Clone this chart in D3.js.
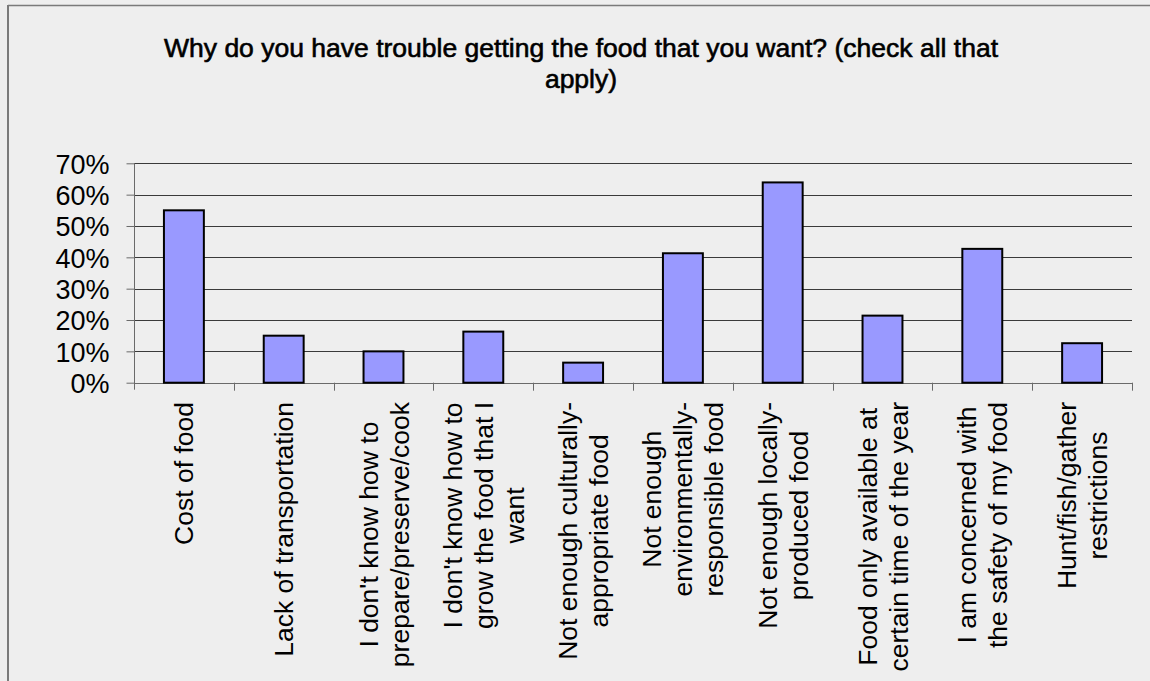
<!DOCTYPE html>
<html>
<head>
<meta charset="utf-8">
<script src="https://cdn.jsdelivr.net/npm/d3@7"></script>
<style>
  html, body { margin: 0; padding: 0; background: #eeeeee; }
  svg { display: block; }
</style>
</head>
<body>
<svg id="chart" width="1150" height="681"></svg>
<script>
// Survey responses: reasons people have trouble getting the food they want
const categories = [
  ["Cost of food"],
  ["Lack of transportation"],
  ["I don't know how to", "prepare/preserve/cook"],
  ["I don't know how to", "grow the food that I", "want"],
  ["Not enough culturally-", "appropriate food"],
  ["Not enough", "environmentally-", "responsible food"],
  ["Not enough locally-", "produced food"],
  ["Food only available at", "certain time of the year"],
  ["I am concerned with", "the safety of my food"],
  ["Hunt/fish/gather", "restrictions"]
];
const shares = [0.55, 0.15, 0.10, 0.163, 0.064, 0.413, 0.639, 0.214, 0.427, 0.126];
const yTicks = [0, 0.1, 0.2, 0.3, 0.4, 0.5, 0.6, 0.7];
const titleLines = [
  "Why do you have trouble getting the food that you want? (check all that",
  "apply)"
];

const svg = d3.select("#chart");
const W = 1150, H = 681;
const plot = { left: 134, right: 1132, top: 163.3, bottom: 382.7 };

// chart area background and frame
svg.append("rect").attr("width", W).attr("height", H).attr("fill", "#eeeeee");
svg.append("line").attr("x1", 8).attr("x2", W).attr("y1", 5.5).attr("y2", 5.5)
  .attr("stroke", "#7a7a7a").attr("stroke-width", 1.5);
svg.append("line").attr("x1", 8).attr("x2", 8).attr("y1", 5).attr("y2", H)
  .attr("stroke", "#7a7a7a").attr("stroke-width", 2);

// title: slightly condensed, medium weight; first line fitted to its width
const title = svg.append("text")
  .attr("font-family", "'Liberation Sans', Arial, sans-serif")
  .attr("font-size", 26)
  .attr("fill", "#000")
  .attr("stroke", "#000")
  .attr("stroke-width", 0.6)
  .attr("text-anchor", "middle");
const titleSpans = titleLines.map((t, i) =>
  title.append("tspan").attr("x", 581).attr("y", 57 + i * 31).text(t));
const firstLen = titleSpans[0].node().getComputedTextLength();
const squeeze = 834 / firstLen;
titleSpans.forEach(s => {
  const len = s.node().getComputedTextLength();
  s.attr("textLength", len * squeeze).attr("lengthAdjust", "spacingAndGlyphs");
});

const keys = categories.map((c, i) => i);
const x = d3.scaleBand().domain(keys).range([plot.left, plot.right])
  .paddingInner(0.6).paddingOuter(0.3);
const xSlots = d3.scaleBand().domain(keys).range([plot.left, plot.right]).padding(0);
const y = d3.scaleLinear().domain([0, 0.7]).range([plot.bottom, plot.top]);

// horizontal gridlines
svg.append("g").selectAll("line").data(yTicks.slice(1)).join("line")
  .attr("x1", plot.left).attr("x2", plot.right)
  .attr("y1", d => Math.round(y(d)) + 0.5).attr("y2", d => Math.round(y(d)) + 0.5)
  .attr("stroke", "#3a3a3a").attr("stroke-width", 1);

// y axis
const yAxis = d3.axisLeft(y).tickValues(yTicks).tickFormat(d3.format(".0%"))
  .tickSize(8).tickPadding(17);
const gy = svg.append("g").attr("transform", `translate(${plot.left + 0.5},0)`).call(yAxis);
gy.select(".domain").attr("stroke", "#6a6a6a").attr("d", `M0,${plot.top}V${plot.bottom + 7}`);
gy.selectAll(".tick line").attr("stroke", "#6a6a6a");
gy.selectAll(".tick text")
  .attr("font-family", "'Liberation Sans', Arial, sans-serif")
  .attr("font-size", 27).attr("fill", "#000").attr("dy", "0.36em");

// x axis baseline with boundary ticks
const xAxisG = svg.append("g");
xAxisG.append("line")
  .attr("x1", plot.left).attr("x2", plot.right)
  .attr("y1", Math.round(plot.bottom) + 0.5).attr("y2", Math.round(plot.bottom) + 0.5)
  .attr("stroke", "#6a6a6a");
const bounds = keys.map(k => xSlots(k) + xSlots.bandwidth());
xAxisG.selectAll("line.tick").data(bounds).join("line").attr("class", "tick")
  .attr("x1", d => Math.round(d) + 0.5).attr("x2", d => Math.round(d) + 0.5)
  .attr("y1", plot.bottom).attr("y2", plot.bottom + 8)
  .attr("stroke", "#6a6a6a");

// bars
svg.append("g").selectAll("rect").data(shares).join("rect")
  .attr("x", (d, i) => x(i))
  .attr("width", x.bandwidth())
  .attr("y", d => y(d))
  .attr("height", d => y(0) - y(d))
  .attr("fill", "#9999ff")
  .attr("stroke", "#000")
  .attr("stroke-width", 2);

// rotated category labels, lines centred on a shared midpoint
const labelTop = 402;
const lineGap = 31;
const labels = svg.append("g")
  .attr("font-family", "'Liberation Sans', Arial, sans-serif")
  .attr("font-size", 26.5).attr("fill", "#000");
categories.forEach((lines, i) => {
  const cx = xSlots(i) + xSlots.bandwidth() / 2;
  const g = labels.append("g");
  const texts = lines.map(l => g.append("text").attr("text-anchor", "middle").text(l));
  const maxLen = d3.max(texts, t => t.node().getComputedTextLength());
  const cy = labelTop + maxLen / 2;
  const n = lines.length;
  texts.forEach((t, j) => {
    const off = (j - (n - 1) / 2) * lineGap;
    // baseline sits to the right of the rotated line's centre
    const bx = cx + off + 9.5;
    t.attr("transform", `translate(${bx},${cy}) rotate(-90)`);
  });
});
</script>
</body>
</html>
